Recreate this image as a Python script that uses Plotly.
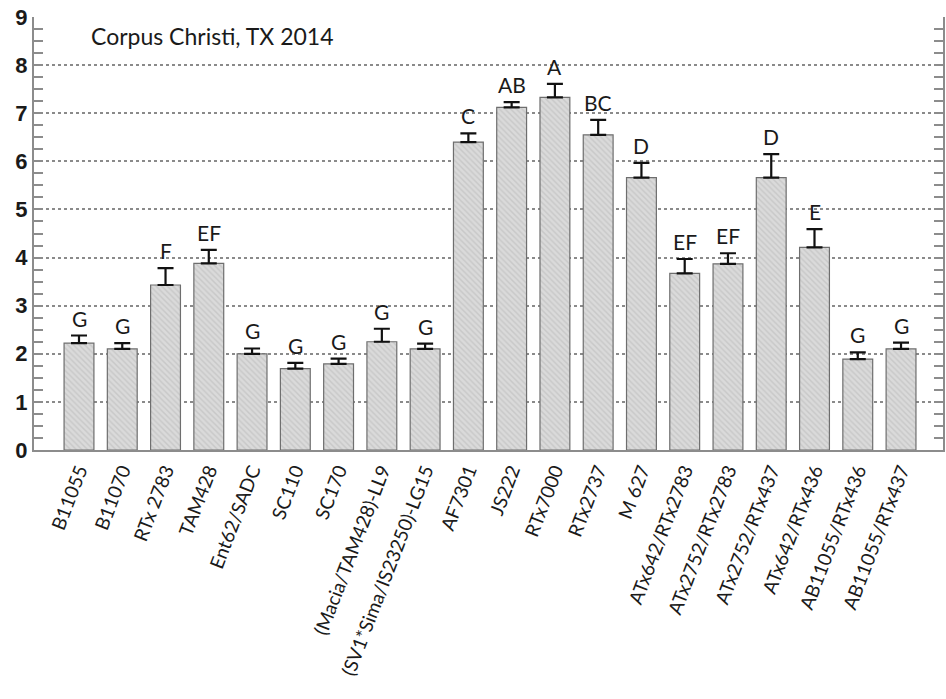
import plotly.graph_objects as go

# Entries, mean values, standard errors and mean-separation letters
entries = [
    "B11055", "B11070", "RTx 2783", "TAM428", "Ent62/SADC", "SC110", "SC170",
    "(Macia/TAM428)-LL9", "(SV1*Sima/IS23250)-LG15", "AF7301", "JS222",
    "RTx7000", "RTx2737", "M 627", "ATx642/RTx2783", "ATx2752/RTx2783",
    "ATx2752/RTx437", "ATx642/RTx436", "AB11055/RTx436", "AB11055/RTx437",
]
means = [2.22, 2.10, 3.43, 3.88, 2.00, 1.69, 1.79, 2.25, 2.10, 6.40,
         7.12, 7.33, 6.55, 5.66, 3.67, 3.87, 5.66, 4.21, 1.89, 2.10]
errors = [0.16, 0.12, 0.35, 0.28, 0.11, 0.12, 0.11, 0.27, 0.11, 0.18,
          0.11, 0.28, 0.31, 0.31, 0.30, 0.22, 0.49, 0.38, 0.14, 0.13]
letters = ["G", "G", "F", "EF", "G", "G", "G", "G", "G", "C",
           "AB", "A", "BC", "D", "EF", "EF", "D", "E", "G", "G"]
site_label = "Corpus Christi, TX 2014"

label_font = "Lato, 'Noto Sans', sans-serif"
axis_grey = "#8c8c8c"

fig = go.Figure()
fig.add_trace(go.Bar(
    x=entries,
    y=means,
    width=0.69,
    marker=dict(
        color="#d6d6d6",
        line=dict(color="#6e6e6e", width=1.2),
        pattern=dict(shape="\\", fgcolor="#b5b5b5", bgcolor="#dadada",
                     size=4, solidity=0.35),
    ),
    error_y=dict(type="data", symmetric=False, array=errors,
                 arrayminus=[0] * len(errors), color="#111111",
                 thickness=2.2, width=8),
    showlegend=False,
))

# Letter groupings above each error bar
for name, m, e, lab in zip(entries, means, errors, letters):
    fig.add_annotation(x=name, y=m + e, text=lab, showarrow=False,
                       yanchor="bottom", yshift=3,
                       font=dict(family=label_font, size=21, color="#1a1a1a"))

fig.add_annotation(xref="paper", yref="paper", x=0.06, y=0.955,
                   xanchor="left", yanchor="middle", text=site_label,
                   showarrow=False,
                   font=dict(family=label_font, size=23, color="#1a1a1a"))

fig.update_layout(
    width=946, height=699,
    margin=dict(l=34, r=1, t=17, b=249),
    plot_bgcolor="white", paper_bgcolor="white",
    bargap=0.31,
)
fig.update_xaxes(
    type="category", range=[-1.04, 19.97],
    tickangle=-69, ticks="",
    tickfont=dict(family=label_font, size=19, color="#1a1a1a"),
    showline=True, linecolor=axis_grey, linewidth=2,
    showgrid=False,
)
fig.update_yaxes(
    range=[0, 9], dtick=1, tick0=0,
    ticks="inside", ticklen=9, tickcolor=axis_grey, tickwidth=1.5,
    minor=dict(dtick=0.25, ticks="inside", ticklen=9,
               tickcolor=axis_grey, tickwidth=1.5, showgrid=False),
    showline=True, linecolor=axis_grey, linewidth=2, mirror="allticks",
    showgrid=True, gridcolor="#8a8a8a", griddash="dot", gridwidth=1.5,
    zeroline=False,
    tickfont=dict(family="'Liberation Sans', Arial, sans-serif", size=22,
                  color="#1a1a1a", weight="bold"),
)

fig.write_html("out.html")
